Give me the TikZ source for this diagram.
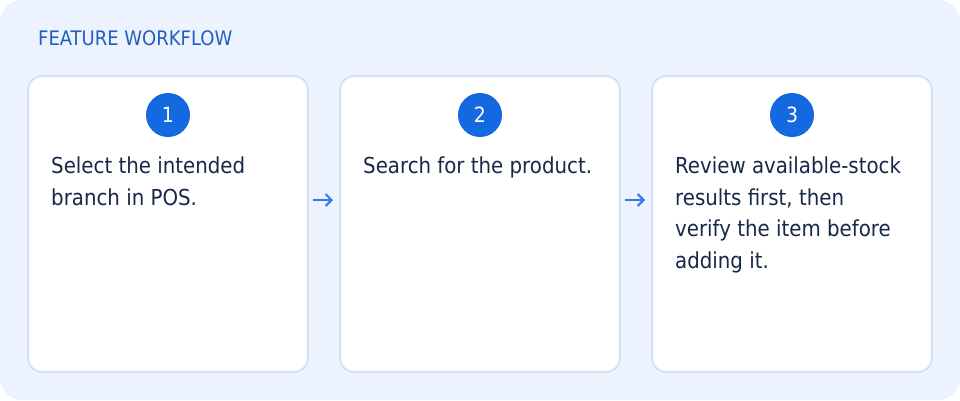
\documentclass[tikz,border=0pt]{standalone}
\usepackage{fontspec}
\setmainfont{DejaVu Sans Condensed}
\usetikzlibrary{arrows.meta}
\definecolor{bgblue}{HTML}{EDF3FE}
\definecolor{cardborder}{HTML}{D1E0F6}
\definecolor{titleblue}{HTML}{1F5FBF}
\definecolor{circblue}{HTML}{1468E0}
\definecolor{textnavy}{HTML}{18284A}
\definecolor{arrowblue}{HTML}{2F7BE8}
\tikzset{
  card/.style={draw=cardborder, line width=1.8pt, fill=white, rounded corners=14pt},
  numcirc/.style={circle, fill=circblue, text=white, minimum size=44pt, inner sep=0pt, font=\fontsize{21}{24}\selectfont},
  cardtext/.style={anchor=north west, inner sep=0pt, align=left, text=textnavy, font=\fontsize{22}{31.5}\selectfont},
  flowarrow/.style={draw=arrowblue, line width=2pt, -{Straight Barb[length=6pt,width=12pt]}},
}
\begin{document}
\begin{tikzpicture}[x=1pt,y=-1pt]
\useasboundingbox (0,0) rectangle (960,400);
\fill[bgblue, rounded corners=22pt] (0,0) rectangle (960,400);
\node[anchor=base west, inner sep=0pt, text=titleblue, font=\fontsize{20}{23}\selectfont] (title) at (38,45) {FEATURE WORKFLOW};
\draw[card] (28,76) rectangle (308,372);
\draw[card] (340,76) rectangle (620,372);
\draw[card] (652,76) rectangle (932,372);
\node[numcirc] (n1) at (168,115) {1};
\node[numcirc] (n2) at (480,115) {2};
\node[numcirc] (n3) at (792,115) {3};
\node[cardtext] (t1) at (51,157) {Select the intended\\branch in POS.};
\node[cardtext] (t2) at (363,157) {Search for the product.};
\node[cardtext] (t3) at (675,157) {Review available-stock\\results first, then\\verify the item before\\adding it.};
\coordinate (a1s) at (313,200); \coordinate (a1e) at (333,200);
\coordinate (a2s) at (625,200); \coordinate (a2e) at (645,200);
\draw[flowarrow] (a1s) -- (a1e);
\draw[flowarrow] (a2s) -- (a2e);
\end{tikzpicture}
\end{document}
